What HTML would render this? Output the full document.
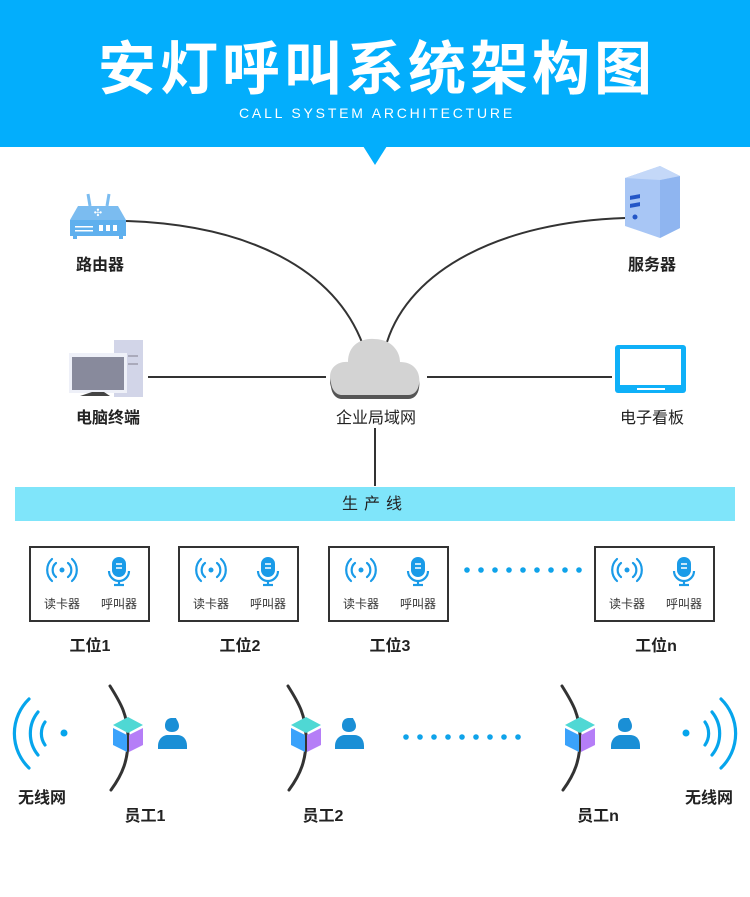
<!DOCTYPE html>
<html><head><meta charset="utf-8"><style>
html,body{margin:0;padding:0;background:#fff;}
body{width:750px;height:892px;overflow:hidden;position:relative;font-family:"Liberation Sans","Noto Sans CJK SC",sans-serif;}
</style></head><body>
<svg width="750" height="892" viewBox="0 0 750 892" xmlns="http://www.w3.org/2000/svg" font-family="Liberation Sans, Noto Sans CJK SC, sans-serif">
<defs>
<g id="cube">
  <polygon points="15,0 30,8 15,16 0,8" fill="#4fd8d4"/>
  <polygon points="0,11 14,18 14,35 0,28" fill="#3aa2fb"/>
  <polygon points="16,18 30,11 30,28 16,35" fill="#b57ef7"/>
</g>
<g id="person">
  <path d="M14,0 C8,0 7,5 7,8 C7,12 10,14 14,14 C18,14 21,12 21,8 C21,4 18,1 18,0 Z" fill="#1a8fd6"/>
  <path d="M0,28 C0,21 5,17 10,17 L19,17 C25,17 29,21 29,28 L29,31 L0,31 Z" fill="#1a8fd6"/>
</g>
<g id="reader" fill="none" stroke="#1a9be8" stroke-width="2.2" stroke-linecap="round">
  <circle cx="0" cy="0" r="2.5" fill="#1a9be8" stroke="none"/>
  <path d="M-6,-7 A9,9 0 0 0 -6,7"/><path d="M6,-7 A9,9 0 0 1 6,7"/>
  <path d="M-10,-11 A15,15 0 0 0 -10,11"/><path d="M10,-11 A15,15 0 0 1 10,11"/>
</g>
<g id="mic">
  <rect x="-7" y="-14" width="14" height="20" rx="7" fill="#1a9be8"/>
  <line x1="-3" y1="-7" x2="3" y2="-7" stroke="#fff" stroke-width="1.5"/>
  <line x1="-3" y1="-3" x2="3" y2="-3" stroke="#fff" stroke-width="1.5"/>
  <path d="M-10,0 A10,10 0 0 0 10,0" fill="none" stroke="#1a9be8" stroke-width="2.2"/>
  <line x1="0" y1="10" x2="0" y2="14" stroke="#1a9be8" stroke-width="2.2"/>
  <line x1="-5" y1="14" x2="5" y2="14" stroke="#1a9be8" stroke-width="2.2"/>
</g>
<g id="station">
  <rect x="1" y="1" width="119" height="74" fill="#fff" stroke="#333" stroke-width="2"/>
  <use href="#reader" x="33" y="24"/>
  <use href="#mic" x="90" y="25"/>
  <text x="33" y="62" font-size="12" fill="#333" text-anchor="middle">读卡器</text>
  <text x="90" y="62" font-size="12" fill="#333" text-anchor="middle">呼叫器</text>
</g>
</defs>

<!-- header -->
<rect x="0" y="0" width="750" height="147" fill="#03aefc"/>
<polygon points="363,146 387,146 375,165" fill="#03aefc"/>
<text x="377" y="89" font-size="58" font-weight="bold" fill="#fff" text-anchor="middle" letter-spacing="4">安灯呼叫系统架构图</text>
<text x="377" y="118" font-size="14" fill="#fff" text-anchor="middle" letter-spacing="2.8">CALL SYSTEM ARCHITECTURE</text>

<!-- connectors -->
<g fill="none" stroke="#333" stroke-width="2">
<path d="M126,221 C250,225 335,270 363,345"/>
<path d="M625,218 C500,222 410,270 387,342"/>
<line x1="148" y1="377" x2="326" y2="377"/>
<line x1="427" y1="377" x2="612" y2="377"/>
<line x1="375" y1="428" x2="375" y2="486"/>
</g>

<!-- router -->
<g>
<line x1="88" y1="194" x2="90" y2="206" stroke="#7bbcf0" stroke-width="3"/>
<line x1="109" y1="194" x2="107" y2="206" stroke="#7bbcf0" stroke-width="3"/>
<polygon points="78,206 118,206 126,220 70,220" fill="#7bbcf0"/>
<rect x="70" y="220" width="56" height="16" fill="#5fb0ee"/>
<rect x="73" y="236" width="4" height="3" fill="#5fb0ee"/><rect x="119" y="236" width="4" height="3" fill="#5fb0ee"/>
<text x="98" y="216" font-size="10" fill="#fff" text-anchor="middle">✣</text>
<rect x="99" y="225" width="4" height="6" fill="#fff"/><rect x="106" y="225" width="4" height="6" fill="#fff"/><rect x="113" y="225" width="4" height="6" fill="#fff"/>
<rect x="75" y="226" width="18" height="1.5" fill="#fff"/><rect x="75" y="230" width="18" height="1.5" fill="#fff"/>
</g>
<text x="100" y="270" font-size="16" fill="#222" text-anchor="middle" font-weight="bold">路由器</text>

<!-- server -->
<polygon points="625,178 660,166 680,176 680,228 660,238 625,226" fill="#a8c6f5"/>
<polygon points="660,180 680,176 680,228 660,238" fill="#8fb5f0"/>
<polygon points="625,178 660,166 680,176 660,180" fill="#c4d8f8"/>
<rect x="630" y="195" width="10" height="4" fill="#2456c7" transform="skewY(-10)" transform-origin="635 197"/>
<rect x="630" y="203" width="10" height="4" fill="#2456c7" transform="skewY(-10)" transform-origin="635 205"/>
<circle cx="635" cy="217" r="2.5" fill="#2456c7"/>
<text x="652" y="270" font-size="16" fill="#222" text-anchor="middle" font-weight="bold">服务器</text>

<!-- pc -->
<rect x="114" y="340" width="29" height="57" fill="#d2d5e8"/>
<rect x="128" y="355" width="10" height="2" fill="#aab"/><rect x="128" y="363" width="10" height="2" fill="#aab"/>
<rect x="69" y="353" width="58" height="40" fill="#eef0f8"/>
<rect x="72" y="357" width="52" height="33" fill="#888a9c"/>
<polygon points="92,392 104,392 110,396 80,396" fill="#444"/>
<text x="108" y="423" font-size="16" fill="#222" text-anchor="middle" font-weight="bold">电脑终端</text>

<!-- cloud -->
<g>
<path d="M331,387 C327,374 336,365 348,366 C348,350 360,342 374,343 C390,343 400,354 400,366 C414,366 421,376 419,388 C418,395 414,399 408,399 L342,399 C336,399 332,394 331,387 Z" fill="#555"/>
<path d="M331,383 C327,370 336,361 348,362 C348,346 360,338 374,339 C390,339 400,350 400,362 C414,362 421,372 419,384 C418,391 414,395 408,395 L342,395 C336,395 332,390 331,383 Z" fill="#d3d3d3"/>
</g>
<text x="376" y="423" font-size="16" fill="#222" text-anchor="middle">企业局域网</text>

<!-- board -->
<rect x="615" y="345" width="71" height="48" rx="3" fill="#0fb0f8"/>
<rect x="620" y="349" width="61" height="36" fill="#fff"/>
<rect x="637" y="388" width="28" height="2" fill="#fff"/>
<text x="652" y="423" font-size="16" fill="#222" text-anchor="middle">电子看板</text>

<!-- production line -->
<rect x="15" y="487" width="720" height="34" fill="#7fe5fa"/>
<text x="375" y="509" font-size="16" fill="#222" text-anchor="middle" letter-spacing="6">生产线</text>

<!-- stations -->
<use href="#station" x="29" y="546"/>
<use href="#station" x="178" y="546"/>
<use href="#station" x="328" y="546"/>
<use href="#station" x="594" y="546"/>
<g fill="#0fa3ea">
<circle cx="467" cy="570" r="2.8"/><circle cx="481" cy="570" r="2.8"/><circle cx="495" cy="570" r="2.8"/><circle cx="509" cy="570" r="2.8"/><circle cx="523" cy="570" r="2.8"/><circle cx="537" cy="570" r="2.8"/><circle cx="551" cy="570" r="2.8"/><circle cx="565" cy="570" r="2.8"/><circle cx="579" cy="570" r="2.8"/>
</g>
<g font-size="16" fill="#222" text-anchor="middle" font-weight="bold">
<text x="90" y="651">工位1</text><text x="240" y="651">工位2</text><text x="390" y="651">工位3</text><text x="656" y="651">工位n</text>
</g>

<!-- wifi -->
<g fill="none" stroke="#06a5ec" stroke-width="3.2" stroke-linecap="round">
<path d="M29,699 A48,48 0 0 0 29,768"/>
<path d="M38,712 A34,34 0 0 0 38,755"/>
<path d="M45,722 A20,20 0 0 0 45,745"/>
<path d="M721,699 A48,48 0 0 1 721,768"/>
<path d="M712,712 A34,34 0 0 1 712,755"/>
<path d="M705,722 A20,20 0 0 1 705,745"/>
</g>
<circle cx="64" cy="733" r="3.5" fill="#06a5ec"/>
<circle cx="686" cy="733" r="3.5" fill="#06a5ec"/>
<g font-size="16" fill="#222" text-anchor="middle" font-weight="bold">
<text x="42" y="803">无线网</text><text x="709" y="803">无线网</text>
</g>

<!-- employees -->
<g fill="none" stroke="#333" stroke-width="3" stroke-linecap="round">
<path d="M110,686 C122,705 127,715 128,735 C129,760 122,775 111,790"/>
<path d="M288,686 C300,705 305,715 306,735 C307,760 300,775 289,790"/>
<path d="M562,686 C574,705 579,715 580,735 C581,760 574,775 563,790"/>
</g>
<use href="#cube" x="113" y="717"/><use href="#person" x="158" y="718"/>
<use href="#cube" x="291" y="717"/><use href="#person" x="335" y="718"/>
<use href="#cube" x="565" y="717"/><use href="#person" x="611" y="718"/>
<g fill="#0fa3ea">
<circle cx="406" cy="737" r="2.8"/><circle cx="420" cy="737" r="2.8"/><circle cx="434" cy="737" r="2.8"/><circle cx="448" cy="737" r="2.8"/><circle cx="462" cy="737" r="2.8"/><circle cx="476" cy="737" r="2.8"/><circle cx="490" cy="737" r="2.8"/><circle cx="504" cy="737" r="2.8"/><circle cx="518" cy="737" r="2.8"/>
</g>
<g font-size="16" fill="#222" text-anchor="middle" font-weight="bold">
<text x="145" y="821">员工1</text><text x="323" y="821">员工2</text><text x="598" y="821">员工n</text>
</g>
</svg>
</body></html>
